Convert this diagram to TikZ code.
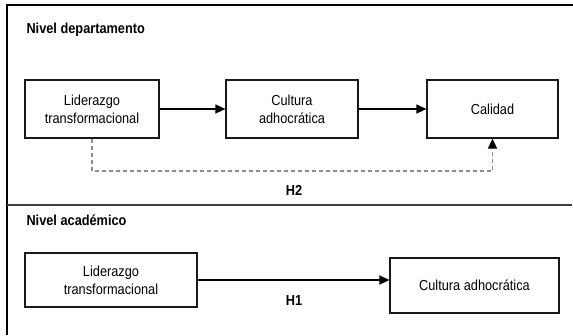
\documentclass[tikz,border=0pt]{standalone}
\usepackage{fontspec}
\setmainfont[FakeStretch=0.88]{Liberation Sans}
\usetikzlibrary{arrows.meta}
\begin{document}
\begin{tikzpicture}[x=1pt, y=-1pt,
        every node/.style={font=\fontsize{14.5}{18}\selectfont},
        varbox/.style={draw=black!90, line width=1.2pt, align=center, inner sep=0pt},
        heading/.style={font=\fontsize{14.5}{18}\selectfont\bfseries, anchor=west},
        path/.style={line width=1.3pt, -{Triangle[length=10pt, width=9pt]}},
        indirect/.style={draw=black!45, line width=1.5pt, dash pattern=on 4pt off 3pt, -{Triangle[length=10pt, width=9pt, color=black]}}]
    \useasboundingbox (0, 0) rectangle (573, 335);
    \draw[line width=1.6pt]
        (7, 335) -- (7, 4.7) -- (573, 4.7);
    \draw[black!75, line width=1.6pt]
        (7, 205) -- (572, 205);
    \node[heading] (nivdep) at (23, 30) {Nivel departamento};
    \node[varbox, minimum width=134pt, minimum height=58pt] (lider) at (92, 109) {Liderazgo\\transformacional};
    \node[varbox, minimum width=132pt, minimum height=58pt] (cultura) at (292, 109) {Cultura\\adhocrática};
    \node[varbox, minimum width=131pt, minimum height=58pt] (calidad) at (492.5, 109) {Calidad};
    \draw[path] (lider) -- (cultura);
    \draw[path] (cultura) -- (calidad);
    \coordinate (h2mid) at (294, 171);
    \draw[indirect] (lider.south) |- (h2mid) -| (calidad.south);
    \node[font=\fontsize{14.5}{18}\selectfont\bfseries] (h2) at (294, 190) {H2};
    \node[heading] (nivacad) at (23, 220) {Nivel académico};
    \node[varbox, minimum width=172pt, minimum height=54pt] (liderac) at (111, 280) {Liderazgo\\transformacional};
    \node[varbox, minimum width=169pt, minimum height=55pt] (culturaac) at (474.5, 285.5) {Cultura adhocrática};
    \draw[path] (liderac.east) -- (liderac.east -| culturaac.west);
    \node[font=\fontsize{14.5}{18}\selectfont\bfseries] (h1) at (294, 301) {H1};
\end{tikzpicture}
\end{document}
